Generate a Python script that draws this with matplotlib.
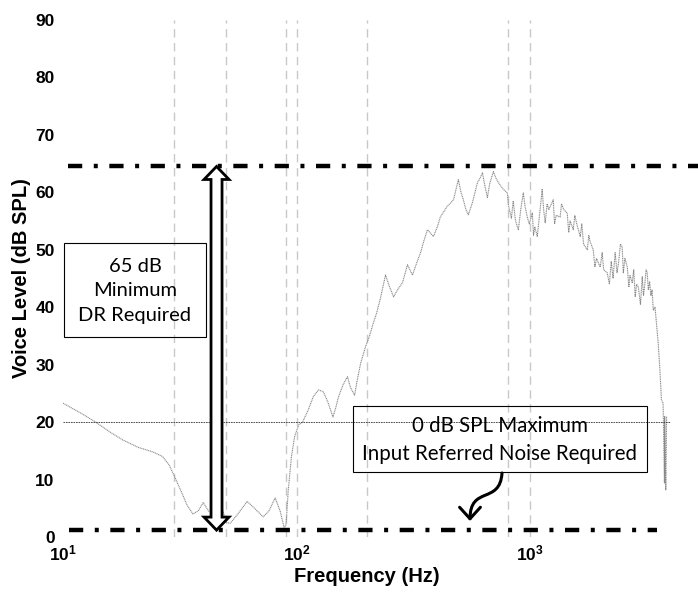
import matplotlib
matplotlib.use('Agg')
import matplotlib.pyplot as plt
import numpy as np
from matplotlib.patches import Polygon, Rectangle, FancyArrowPatch
from matplotlib.path import Path
from matplotlib.transforms import IdentityTransform

plt.rcParams['font.family'] = ['Liberation Sans', 'DejaVu Sans']
plt.rcParams['mathtext.fontset'] = 'custom'
plt.rcParams['mathtext.bf'] = 'Liberation Sans:bold'

# voice spectrum (Hz, dB SPL)
freq = [10, 12, 13.8, 16, 18, 21, 24.3, 26.7, 28.5, 29.8, 32, 34, 36, 38, 39.8,
        42, 44, 46, 48, 50, 52, 56, 61.4, 66, 71.9, 76, 80.9, 85, 88.3, 90,
        92, 95, 98, 102, 106, 112, 118, 124, 130, 136, 143, 147, 151, 158, 165,
        170, 177, 182, 188, 197, 205, 213, 220, 229, 240, 250, 260, 270, 284,
        298, 313, 325, 339, 350, 363, 385, 400, 412, 440, 469, 492, 505, 517,
        530, 543, 565, 594, 610, 624, 640, 655, 670, 695, 712, 730, 767, 798,
        805, 830, 845, 863, 880, 889, 910, 933, 950, 970, 990, 1020, 1032, 1045, 1071,
        1095, 1124, 1140, 1158, 1180, 1200, 1253, 1270, 1290, 1342, 1360, 1390, 1438,
        1460, 1480, 1527, 1550, 1580, 1636, 1660, 1690, 1753, 1780, 1800, 1859, 1890,
        1920, 1991, 2030, 2060, 2133, 2180, 2220, 2260, 2307, 2350, 2390, 2430, 2472,
        2500, 2540, 2600, 2640, 2670, 2730, 2770, 2811, 2850, 2900, 2960, 3013, 3050,
        3090, 3130, 3163, 3200, 3240, 3280, 3319, 3360, 3418, 3489, 3525, 3580, 3640,
        3700, 3750, 3760, 3800, 3830]
level = [23.3, 21.5, 20.0, 18.2, 16.9, 15.6, 14.8, 14.0, 12.5, 10.8, 8.0, 5.5, 4.0, 4.6, 6.0,
         4.5, 4.8, 5.8, 5.0, 2.5, 2.4, 4.0, 6.2, 5.0, 3.5, 4.5, 6.8, 4.5, 1.7, 2.0,
         8.0, 14.0, 17.5, 19.5, 20.0, 22.1, 24.5, 25.6, 25.3, 23.5, 20.9, 22.5, 24.4, 26.5, 27.9,
         26.0, 24.7, 27.5, 30.3, 33.1, 35.0, 37.3, 39.0, 41.8, 45.6, 43.5, 41.8, 43.0, 44.3,
         47.4, 45.6, 47.5, 49.5, 51.5, 53.5, 52.3, 54.0, 55.7, 57.5, 58.7, 62.2, 60.0, 58.7,
         57.0, 56.1, 58.2, 61.7, 62.5, 63.4, 61.0, 59.1, 61.5, 63.6, 62.5, 61.7, 60.5, 59.9,
         57.8, 55.5, 58.5, 55.2, 54.0, 53.5, 57.0, 59.9, 57.5, 55.7, 54.5, 56.4, 52.5, 54.0, 52.3,
         56.0, 60.5, 57.0, 54.7, 58.0, 57.0, 58.7, 54.5, 56.0, 55.7, 58.0, 57.0, 56.4,
         53.0, 55.0, 53.5, 56.0, 54.5, 52.3, 54.5, 51.0, 50.0, 52.5, 51.5, 50.0, 47.0,
         48.5, 47.0, 49.5, 46.5, 46.0, 44.0, 48.0, 45.0, 49.5, 46.0, 48.0, 51.0, 50.5,
         46.0, 48.5, 47.0, 43.5, 45.5, 44.3, 46.5, 41.8, 44.0, 43.5, 40.5, 45.3, 42.0,
         44.0, 46.5, 46.0, 43.0, 44.5, 42.0, 43.0, 39.5, 40.0, 36.0, 33.8, 29.6, 23.9,
         23.3, 9.4, 21.0, 8.2, 21.0]

grid_freqs = [30, 50, 90, 100, 200, 800, 1000]
noise_req = 20       # thin reference line
dr_top = 64.5        # top dash-dot line
dr_bottom = 1.2      # bottom dash-dot line

fig = plt.figure(figsize=(6.98, 5.95), dpi=100)
ax = fig.add_axes([63 / 698, 58 / 595, 608 / 698, 517 / 595])
ax.set_xscale('log')
ax.set_xlim(10, 4000)
ax.set_ylim(0, 90)

for f in grid_freqs:
    ax.axvline(f, color='#c8c8c8', lw=1, linestyle=(0, (6, 4)), zorder=1)

ax.plot(freq, level, color='#8a8a8a', lw=0.8, linestyle=(0, (1, 0.6)), zorder=2)
ax.axhline(noise_req, color='#333333', lw=0.6, linestyle=(0, (2, 1)), zorder=2)

dashdot = (0, (3.2, 2.6, 0.9, 2.6))
ax.plot([10.5, 5250], [dr_top, dr_top], color='black', lw=3.2, linestyle=dashdot,
        dash_capstyle='butt', clip_on=False, zorder=4)
ax.plot([10.6, 3500], [dr_bottom, dr_bottom], color='black', lw=3.2, linestyle=dashdot,
        dash_capstyle='butt', zorder=4)

for s in ax.spines.values():
    s.set_visible(False)
ax.set_yticks(range(0, 91, 10))
ax.set_xticks([10, 100, 1000])
ax.set_xticklabels([r'$\mathbf{10^{1}}$', r'$\mathbf{10^{2}}$', r'$\mathbf{10^{3}}$'])
ax.minorticks_off()
ax.tick_params(length=0, labelsize=12.5)
ax.tick_params(axis='y', pad=6)
ax.tick_params(axis='x', pad=5)
for lab in ax.get_yticklabels():
    lab.set_fontweight('bold')
ax.set_xlabel('Frequency (Hz)', fontsize=14.5, fontweight='bold', labelpad=2)
ax.set_ylabel('Voice Level (dB SPL)', fontsize=14.5, fontweight='bold', labelpad=3)

# hollow double arrow (65 dB range)
x0, yt = ax.transData.transform((45.4, dr_top))
_, yb = ax.transData.transform((45.4, dr_bottom))
sw, hw, hl = 5.5, 12.5, 13
pts = [(x0, yt), (x0 + hw, yt - hl), (x0 + sw, yt - hl), (x0 + sw, yb + hl),
       (x0 + hw, yb + hl), (x0, yb), (x0 - hw, yb + hl), (x0 - sw, yb + hl),
       (x0 - sw, yt - hl), (x0 - hw, yt - hl)]
ax.add_patch(Polygon(pts, closed=True, facecolor='white', edgecolor='black', lw=2,
                     transform=IdentityTransform(), zorder=5, joinstyle='miter'))

# text boxes
box_font = ['Lato', 'DejaVu Sans']
ax.add_patch(Rectangle((1 / 608, 200 / 517), 142 / 608, 94 / 517, transform=ax.transAxes,
                       fill=False, edgecolor='black', lw=0.8, zorder=6))
ax.text(72 / 608, 246 / 517, '65 dB\nMinimum\nDR Required', transform=ax.transAxes,
        ha='center', va='center', fontsize=14.5, family=box_font, linespacing=1.55, zorder=6)
ax.add_patch(Rectangle((290 / 608, 65 / 517), 294 / 608, 66 / 517, transform=ax.transAxes,
                       fill=False, edgecolor='black', lw=0.8, zorder=6))
ax.text(437 / 608, 97 / 517, '0 dB SPL Maximum\nInput Referred Noise Required',
        transform=ax.transAxes, ha='center', va='center', fontsize=14.8, family=box_font,
        linespacing=1.5, zorder=6)

# curved pointer from the noise box
H = 595
curve = Path([(502, H - 473), (500, H - 505), (470, H - 485), (470, H - 521)],
             [Path.MOVETO, Path.CURVE4, Path.CURVE4, Path.CURVE4])
ax.add_patch(FancyArrowPatch(path=curve, arrowstyle='->,head_length=0.55,head_width=0.5',
                             mutation_scale=15, lw=2.2, color='black',
                             transform=IdentityTransform(), zorder=6))

fig.savefig('out.png', dpi=100)
